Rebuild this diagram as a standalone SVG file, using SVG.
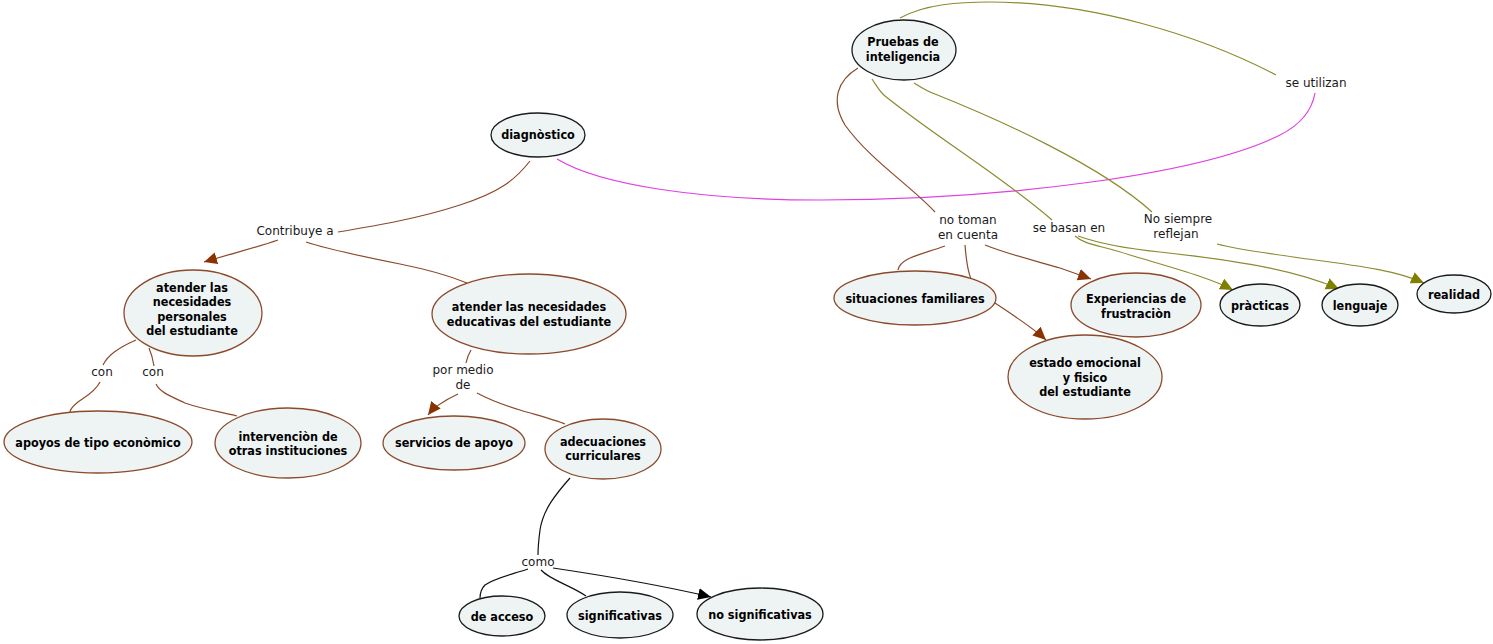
<svg xmlns="http://www.w3.org/2000/svg" width="1493" height="644" viewBox="0 0 1493 644">
<style>
.n ellipse{fill:#eef3f4;stroke-width:1.3}
.b ellipse{stroke:#8b4a2b}
.k ellipse{stroke:#1a1a1a}
.n text{font-family:"DejaVu Sans Condensed","DejaVu Sans",sans-serif;font-stretch:condensed;font-weight:bold;font-size:12.5px;fill:#000;text-anchor:middle}
.l{font-family:"DejaVu Sans",sans-serif;font-size:12px;fill:#1a1a1a;text-anchor:middle}
#connectors path{fill:none;stroke-width:1.2}
.cb{stroke:#8b4a2b}
.co{stroke:#8b8b30}
.cm{stroke:#e040e0}
.ck{stroke:#111}
</style>
<defs>
<marker id="ab" markerUnits="userSpaceOnUse" markerWidth="14" markerHeight="12" refX="13" refY="6" orient="auto"><path d="M0,0 L13,6 L0,12 z" fill="#8b3300"/></marker>
<marker id="ao" markerUnits="userSpaceOnUse" markerWidth="14" markerHeight="12" refX="13" refY="6" orient="auto"><path d="M0,0 L13,6 L0,12 z" fill="#808000"/></marker>
<marker id="ak" markerUnits="userSpaceOnUse" markerWidth="14" markerHeight="12" refX="13" refY="6" orient="auto"><path d="M0,0 L13,6 L0,12 z" fill="#000"/></marker>
</defs>
<rect width="1493" height="644" fill="#fff"/>
<g id="connectors">
<path class="co" d="M900,18 C925,4 960,2 990,2 C1090,2 1200,35 1276,75"/>
<path class="cm" d="M1315,93 C1312,110 1300,125 1280,135 C1200,175 1000,200 820,200 C700,200 600,185 557,159"/>
<path class="cb" d="M858,68 C838,80 830,100 845,125 C870,160 910,185 935,212"/>
<path class="co" d="M872,79 C878,88 880,92 885,96 C940,140 1000,175 1052,220"/>
<path class="co" d="M914,83 C922,88 928,92 935,94 C1000,120 1100,165 1152,212"/>
<path class="co" d="M1075,236 C1085,245 1100,245 1130,255 C1180,270 1210,278 1233,290" marker-end="url(#ao)"/>
<path class="co" d="M1078,236 C1095,242 1120,248 1160,252 C1250,262 1300,272 1339,289" marker-end="url(#ao)"/>
<path class="co" d="M1217,244 C1240,250 1260,252 1300,258 C1360,266 1395,270 1424,283" marker-end="url(#ao)"/>
<path class="cb" d="M945,246 C920,255 900,258 898,270"/>
<path class="cb" d="M965,245 C967,270 970,283 980,293 C1005,310 1030,325 1046,340" marker-end="url(#ab)"/>
<path class="cb" d="M985,245 C1010,255 1040,262 1060,268 L1091,279" marker-end="url(#ab)"/>
<path class="cb" d="M530,161 C515,180 500,192 460,205 C420,218 380,225 338,232"/>
<path class="cb" d="M278,240 C255,248 230,254 204,262" marker-end="url(#ab)"/>
<path class="cb" d="M306,242 C330,250 370,258 400,264 C430,270 450,276 467,283"/>
<path class="cb" d="M136,340 C118,348 108,355 103,365"/>
<path class="cb" d="M100,382 C95,392 85,397 78,402 C72,407 70,410 70,412"/>
<path class="cb" d="M149,348 C152,355 153,360 154,366"/>
<path class="cb" d="M156,384 C160,392 168,395 185,403 C205,410 222,412 237,416"/>
<path class="cb" d="M471,350 C468,355 467,358 466,363"/>
<path class="cb" d="M458,394 C445,400 435,406 428,415" marker-end="url(#ab)"/>
<path class="cb" d="M477,393 C490,400 500,404 520,410 C540,416 555,420 565,424"/>
<path class="ck" d="M570,478 C555,495 543,510 540,530 C538,545 538,550 538,555"/>
<path class="ck" d="M528,569 C510,575 495,578 485,585 C480,590 480,595 480,598"/>
<path class="ck" d="M541,570 C550,580 570,585 586,596"/>
<path class="ck" d="M553,568 C600,575 660,585 711,597" marker-end="url(#ak)"/>
</g>
<g id="labels" class="l">
<text x="1316" y="87">se utilizan</text>
<text x="968" y="224">no toman</text>
<text x="968" y="239">en cuenta</text>
<text x="1069" y="232">se basan en</text>
<text x="1178" y="223">No siempre</text>
<text x="1176" y="238">reflejan</text>
<text x="295" y="235">Contribuye a</text>
<text x="102" y="376">con</text>
<text x="153" y="376">con</text>
<text x="463" y="374">por medio</text>
<text x="463" y="389">de</text>
<text x="538" y="566">como</text>
</g>
<g id="n-pruebas" class="n k"><ellipse cx="904" cy="50" rx="52" ry="30"/><text x="903" y="46">Pruebas de</text><text x="903" y="61">inteligencia</text></g>
<g id="n-diagnostico" class="n k"><ellipse cx="538" cy="135" rx="47" ry="22"/><text x="538" y="139">diagnòstico</text></g>
<g id="n-personales" class="n b"><ellipse cx="193" cy="313" rx="69" ry="43"/><text x="192" y="291.5">atender las</text><text x="192" y="306">necesidades</text><text x="192" y="320.5">personales</text><text x="192" y="335">del estudiante</text></g>
<g id="n-educativas" class="n b"><ellipse cx="529" cy="314" rx="97" ry="40"/><text x="529" y="310.5">atender las necesidades</text><text x="529" y="325.5">educativas del estudiante</text></g>
<g id="n-apoyos" class="n b"><ellipse cx="98" cy="442" rx="94" ry="31"/><text x="98" y="446.5">apoyos de tipo econòmico</text></g>
<g id="n-intervencion" class="n b"><ellipse cx="288" cy="443" rx="73" ry="35"/><text x="288" y="440.5">intervenciòn de</text><text x="288" y="454.5">otras instituciones</text></g>
<g id="n-servicios" class="n b"><ellipse cx="454" cy="443" rx="71" ry="27"/><text x="454" y="446.5">servicios de apoyo</text></g>
<g id="n-adecuaciones" class="n b"><ellipse cx="603" cy="449" rx="58" ry="30"/><text x="603" y="445.5">adecuaciones</text><text x="603" y="459.5">curriculares</text></g>
<g id="n-acceso" class="n k"><ellipse cx="502" cy="616" rx="43" ry="20"/><text x="502" y="620.5">de acceso</text></g>
<g id="n-significativas" class="n k"><ellipse cx="620" cy="615" rx="53" ry="23"/><text x="620" y="619.5">significativas</text></g>
<g id="n-nosignificativas" class="n k"><ellipse cx="760" cy="614" rx="63" ry="26"/><text x="760" y="618.5">no significativas</text></g>
<g id="n-situaciones" class="n b"><ellipse cx="915" cy="298" rx="81" ry="27"/><text x="915" y="302.5">situaciones familiares</text></g>
<g id="n-experiencias" class="n b"><ellipse cx="1136" cy="305" rx="65" ry="32"/><text x="1136" y="302.5">Experiencias de</text><text x="1136" y="317.5">frustraciòn</text></g>
<g id="n-estado" class="n b"><ellipse cx="1085" cy="377" rx="77" ry="42"/><text x="1085" y="366.5">estado emocional</text><text x="1085" y="381.5">y fisico</text><text x="1085" y="395.5">del estudiante</text></g>
<g id="n-practicas" class="n k"><ellipse cx="1260" cy="305" rx="40" ry="21"/><text x="1260" y="309.5">pràcticas</text></g>
<g id="n-lenguaje" class="n k"><ellipse cx="1360" cy="305" rx="38" ry="21"/><text x="1360" y="309.5">lenguaje</text></g>
<g id="n-realidad" class="n k"><ellipse cx="1454" cy="294" rx="37" ry="19"/><text x="1454" y="298.5">realidad</text></g>
</svg>
